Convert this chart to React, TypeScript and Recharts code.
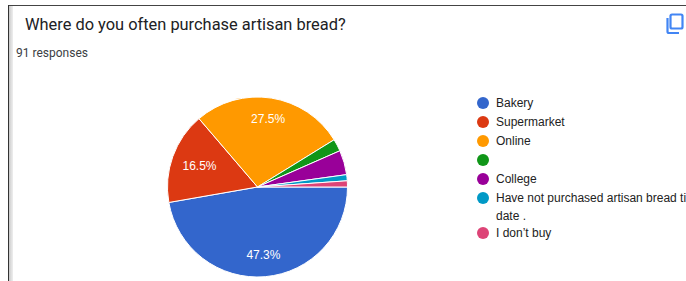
import React from 'react';
import { PieChart, Pie, Cell, Legend } from 'recharts';

const categories = [
  'Bakery',
  'Supermarket',
  'Online',
  '',
  'College',
  'Have not purchased artisan bread till date .',
  'I don\u2019t buy',
];
const responses = [43, 15, 25, 2, 4, 1, 1];
const colors = ['#3366cc', '#dc3912', '#ff9900', '#109618', '#990099', '#0099c6', '#dd4477'];

const title = 'Where do you often purchase artisan bread?';
const subtitle = '91 responses';

const data = categories.map((name, i) => ({ name, value: responses[i] }));

const RAD = Math.PI / 180;

const renderLabel = (props: any) => {
  const { cx, cy, midAngle, outerRadius, percent } = props;
  if (percent < 0.1) return null;
  const r = outerRadius * (percent < 0.2 ? 0.685 : 0.76);
  const x = cx + r * Math.cos(-midAngle * RAD);
  const y = cy + r * Math.sin(-midAngle * RAD);
  return (
    <text
      x={x}
      y={y}
      fill="#ffffff"
      textAnchor="middle"
      dominantBaseline="central"
      style={{ fontFamily: 'Arial, "Liberation Sans", sans-serif', fontSize: 12 }}
    >
      {(percent * 100).toFixed(1) + '%'}
    </text>
  );
};

const LegendContent = () => (
  <div style={{ fontFamily: 'Arial, "Liberation Sans", sans-serif', fontSize: 12, color: '#222' }}>
    {categories.map((c, i) => (
      <div key={i} style={{ display: 'flex', alignItems: 'flex-start', marginBottom: i === 5 ? -1 : 1 }}>
        <div
          style={{
            width: 12,
            height: 12,
            borderRadius: 6,
            background: colors[i],
            marginTop: 3,
            marginRight: 7,
            flex: '0 0 auto',
          }}
        />
        <div style={{ width: 210, lineHeight: '18px', minHeight: 18 }}>{c}</div>
      </div>
    ))}
  </div>
);

export default function App() {
  return (
    <div
      style={{
        position: 'absolute',
        left: 0,
        top: 0,
        width: 686,
        height: 281,
        overflow: 'hidden',
        background: '#fff',
      }}
    >
      {/* frame */}
      <div style={{ position: 'absolute', left: 8, top: 5, width: 678, height: 1, background: '#444' }} />
      <div style={{ position: 'absolute', left: 8, top: 5, width: 1, height: 276, background: '#333' }} />
      <div
        style={{
          position: 'absolute',
          left: 9,
          top: 6,
          width: 4,
          height: 275,
          background: 'linear-gradient(to right, #c8c8c8, #dedede, #eeeeee)',
        }}
      />
      <div
        style={{
          position: 'absolute',
          left: 25,
          top: 15,
          fontFamily: 'Roboto, sans-serif',
          fontSize: 16.4,
          color: '#202124',
          whiteSpace: 'nowrap',
        }}
      >
        {title}
      </div>
      <div
        style={{
          position: 'absolute',
          left: 16,
          top: 46,
          fontFamily: 'Roboto, sans-serif',
          fontSize: 12,
          color: '#3c4043',
          whiteSpace: 'nowrap',
        }}
      >
        {subtitle}
      </div>
      <svg style={{ position: 'absolute', left: 666, top: 13 }} width={20} height={22} viewBox="0 0 20 22">
        <rect x={4.5} y={1.5} width={12} height={14} rx={1.5} fill="none" stroke="#4285f4" strokeWidth={2.2} />
        <path d="M1.5 5 L1.5 18.5 Q1.5 20 3 20 L13 20" fill="none" stroke="#4285f4" strokeWidth={2.2} />
      </svg>
      <div style={{ position: 'absolute', left: 0, top: 0 }}>
        <PieChart width={686} height={281} margin={{ top: 0, right: 0, bottom: 0, left: 0 }}>
          <Pie
            data={data}
            dataKey="value"
            nameKey="name"
            cx={257.5}
            cy={187}
            outerRadius={90}
            startAngle={0}
            endAngle={-360}
            stroke="#ffffff"
            strokeWidth={1}
            label={renderLabel}
            labelLine={false}
            isAnimationActive={false}
          >
            {data.map((d, i) => (
              <Cell key={i} fill={colors[i]} />
            ))}
          </Pie>
          <Legend
            content={<LegendContent />}
            wrapperStyle={{ position: 'absolute', left: 477, top: 94, width: 240 }}
          />
        </PieChart>
      </div>
    </div>
  );
}
